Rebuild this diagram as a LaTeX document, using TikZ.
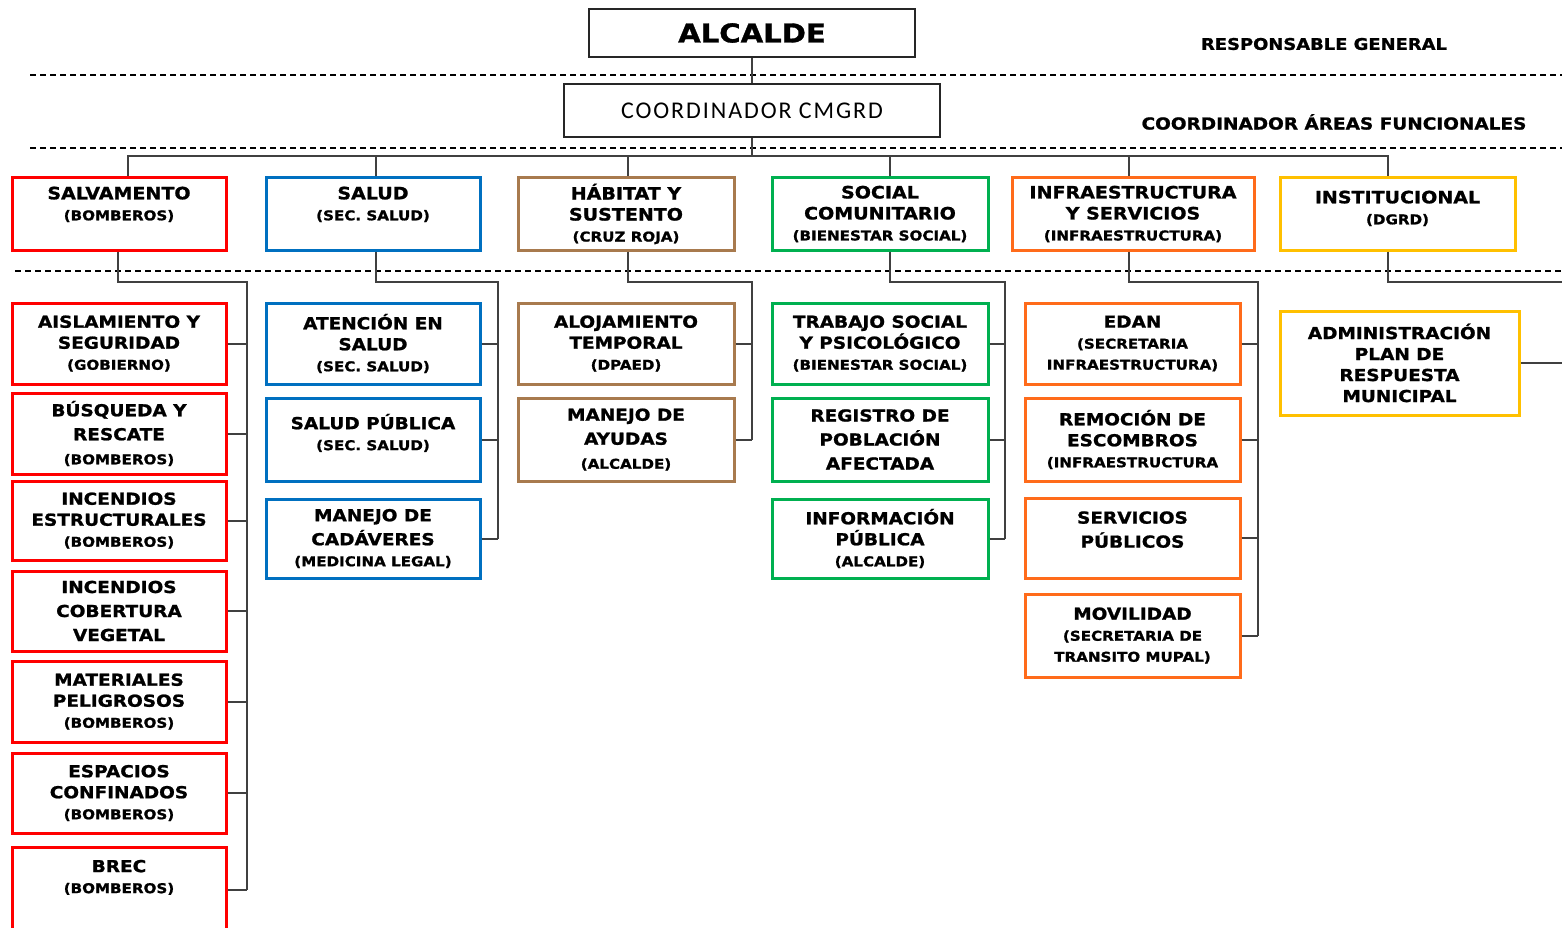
\documentclass[tikz,border=0pt]{standalone}
\usepackage{fontspec}
\setmainfont{DejaVu Sans}[FakeStretch=1.12, BoldFeatures={FakeBold=1.2}]
\newfontfamily\coordfont{Carlito}[LetterSpace=8]
\definecolor{myred}{HTML}{FF0000}
\definecolor{myblue}{HTML}{0070C0}
\definecolor{mybrown}{HTML}{A87A4E}
\definecolor{mygreen}{HTML}{00B050}
\definecolor{myorange}{HTML}{FF6B1A}
\definecolor{myyellow}{HTML}{FFC000}
\definecolor{linegray}{HTML}{404040}
\newcommand{\dep}[1]{{\fontsize{13.5}{16}\selectfont #1}}
\tikzset{
  box/.style={draw, line width=3pt, fill=white, align=center, inner sep=1pt,
    font=\bfseries\fontsize{16.5}{21}\selectfont},
  head/.style={box, minimum height=72pt, font=\bfseries\fontsize{17}{21}\selectfont},
  kid/.style={box, minimum width=214pt, minimum height=81pt},
  topbox/.style={draw=black!85, line width=2pt, fill=white},
  conn/.style={draw=linegray, line width=2pt},
  sep/.style={line width=1.5pt, dash pattern=on 6pt off 4pt},
  lvl/.style={font=\bfseries\fontsize{16}{20}\selectfont}
}
\begin{document}
\begin{tikzpicture}[x=1pt,y=-1pt]
	\useasboundingbox (0,0) rectangle (1562,928);

	% dashed level separators
	\draw[sep] (30,75) -- (1562,75);
	\draw[sep] (30,148) -- (1562,148);
	\draw[sep] (15,271) -- (1562,271);

	\node[topbox, minimum width=326pt, minimum height=48pt, font=\bfseries\fontsize{26}{30}\selectfont] (alc) at (752,33) {ALCALDE};
	\node[topbox, minimum width=376pt, minimum height=53pt, font=\coordfont\fontsize{24}{28}\selectfont] (coord) at (752,110.5) {COORDINADOR CMGRD};
	\node[lvl] (resp) at (1324,44) {RESPONSABLE GENERAL};
	\node[lvl, font=\bfseries\fontsize{16.5}{20}\selectfont] (areas) at (1334,122) {COORDINADOR ÁREAS FUNCIONALES};

	% functional areas
	\node[head, draw=myred, minimum width=214pt] (salv) at (119,214) {SALVAMENTO\\\dep{(BOMBEROS)}\\~};
	\node[head, draw=myblue, minimum width=214pt] (salud) at (373,214) {SALUD\\\dep{(SEC. SALUD)}\\~};
	\node[head, draw=mybrown, minimum width=216pt] (hab) at (626,214) {HÁBITAT Y\\SUSTENTO\\\dep{(CRUZ ROJA)}};
	\node[head, draw=mygreen, minimum width=216pt] (soc) at (880,214) {SOCIAL\\COMUNITARIO\\\dep{(BIENESTAR SOCIAL)}};
	\node[head, draw=myorange, minimum width=242pt] (infra) at (1133,214) {INFRAESTRUCTURA\\Y SERVICIOS\\\dep{(INFRAESTRUCTURA)}};
	\node[head, draw=myyellow, minimum width=235pt] (inst) at (1397.5,214) {INSTITUCIONAL\\\dep{(DGRD)}\\[-8pt]~};

	% salvamento
	\node[kid, draw=myred] (ais) at (119,343.5) {AISLAMIENTO Y\\SEGURIDAD\\\dep{(GOBIERNO)}};
	\node[kid, draw=myred] (busq) at (119,433.5) {BÚSQUEDA Y\\[3pt]RESCATE\\[3pt]\dep{(BOMBEROS)}};
	\node[kid, draw=myred, minimum height=79pt] (iest) at (119,520.5) {INCENDIOS\\ESTRUCTURALES\\\dep{(BOMBEROS)}};
	\node[kid, draw=myred, minimum height=80pt] (icob) at (119,611) {INCENDIOS\\[3pt]COBERTURA\\[3pt]VEGETAL};
	\node[kid, draw=myred] (mat) at (119,701.5) {MATERIALES\\PELIGROSOS\\\dep{(BOMBEROS)}};
	\node[kid, draw=myred, minimum height=80pt] (esp) at (119,793) {ESPACIOS\\CONFINADOS\\\dep{(BOMBEROS)}};
	\node[kid, draw=myred, minimum height=86pt] (brec) at (119,890) {BREC\\\dep{(BOMBEROS)}\\[6pt]~};

	% salud
	\node[kid, draw=myblue] (aten) at (373,343.5) {ATENCIÓN EN\\SALUD\\\dep{(SEC. SALUD)}};
	\node[kid, draw=myblue, minimum height=83pt] (spub) at (373,439.5) {SALUD PÚBLICA\\\dep{(SEC. SALUD)}\\[-6pt]~};
	\node[kid, draw=myblue, minimum height=79pt] (cad) at (373,538.5) {MANEJO DE\\[3pt]CADÁVERES\\\dep{(MEDICINA LEGAL)}};

	% habitat
	\node[kid, draw=mybrown, minimum width=216pt] (aloj) at (626,343.5) {ALOJAMIENTO\\TEMPORAL\\\dep{(DPAED)}};
	\node[kid, draw=mybrown, minimum width=216pt, minimum height=83pt] (ayud) at (626,439.5) {MANEJO DE\\[3pt]AYUDAS\\[3pt]\dep{(ALCALDE)}};

	% social
	\node[kid, draw=mygreen, minimum width=216pt] (trab) at (880,343.5) {TRABAJO SOCIAL\\Y PSICOLÓGICO\\\dep{(BIENESTAR SOCIAL)}};
	\node[kid, draw=mygreen, minimum width=216pt, minimum height=83pt] (reg) at (880,439.5) {REGISTRO DE\\[3pt]POBLACIÓN\\[3pt]AFECTADA};
	\node[kid, draw=mygreen, minimum width=216pt, minimum height=79pt] (info) at (880,538.5) {INFORMACIÓN\\PÚBLICA\\\dep{(ALCALDE)}};

	% infraestructura
	\node[kid, draw=myorange, minimum width=215pt] (edan) at (1132.5,343.5) {EDAN\\\dep{(SECRETARIA}\\\dep{INFRAESTRUCTURA)}};
	\node[kid, draw=myorange, minimum width=215pt, minimum height=83pt] (remo) at (1132.5,439.5) {REMOCIÓN DE\\ESCOMBROS\\\dep{(INFRAESTRUCTURA}};
	\node[kid, draw=myorange, minimum width=215pt, minimum height=80pt] (serv) at (1132.5,538) {SERVICIOS\\[3pt]PÚBLICOS\\[-4pt]~};
	\node[kid, draw=myorange, minimum width=215pt, minimum height=83pt] (movi) at (1132.5,635.5) {MOVILIDAD\\\dep{(SECRETARIA DE}\\\dep{TRANSITO MUPAL)}};

	% institucional
	\node[kid, draw=myyellow, minimum width=239pt, minimum height=104pt] (adm) at (1399.5,363) {ADMINISTRACIÓN\\PLAN DE\\RESPUESTA\\MUNICIPAL};

	% spines
	\coordinate (s1) at (247,282);
	\coordinate (s2) at (498,282);
	\coordinate (s3) at (752,282);
	\coordinate (s4) at (1005,282);
	\coordinate (s5) at (1258,282);
	\coordinate (s6) at (1600,282);

	\draw[conn] (alc) -- (coord);
	\foreach \n/\dx in {salv/9,salud/3,hab/2,soc/10,infra/-4,inst/-10}
		\draw[conn] (coord.south) -- ++(0,18) -| ([xshift=\dx pt]\n.north);

	\draw[conn] ([xshift=-1pt]salv.south) |- (s1) -- (s1 |- brec.east);
	\draw[conn] ([xshift=3pt]salud.south) |- (s2) -- (s2 |- cad.east);
	\draw[conn] ([xshift=2pt]hab.south) |- (s3) -- (s3 |- ayud.east);
	\draw[conn] ([xshift=10pt]soc.south) |- (s4) -- (s4 |- info.east);
	\draw[conn] ([xshift=-4pt]infra.south) |- (s5) -- (s5 |- movi.east);
	\draw[conn] ([xshift=-10pt]inst.south) |- (s6) -- (s6 |- adm.east);

	\foreach \n in {ais,busq,iest,icob,mat,esp,brec}
		\draw[conn] (\n.east) -- (\n.east -| s1);
	\foreach \n in {aten,spub,cad}
		\draw[conn] (\n.east) -- (\n.east -| s2);
	\foreach \n in {aloj,ayud}
		\draw[conn] (\n.east) -- (\n.east -| s3);
	\foreach \n in {trab,reg,info}
		\draw[conn] (\n.east) -- (\n.east -| s4);
	\foreach \n in {edan,remo,serv,movi}
		\draw[conn] (\n.east) -- (\n.east -| s5);
	\draw[conn] (adm.east) -- (adm.east -| s6);
\end{tikzpicture}
\end{document}
